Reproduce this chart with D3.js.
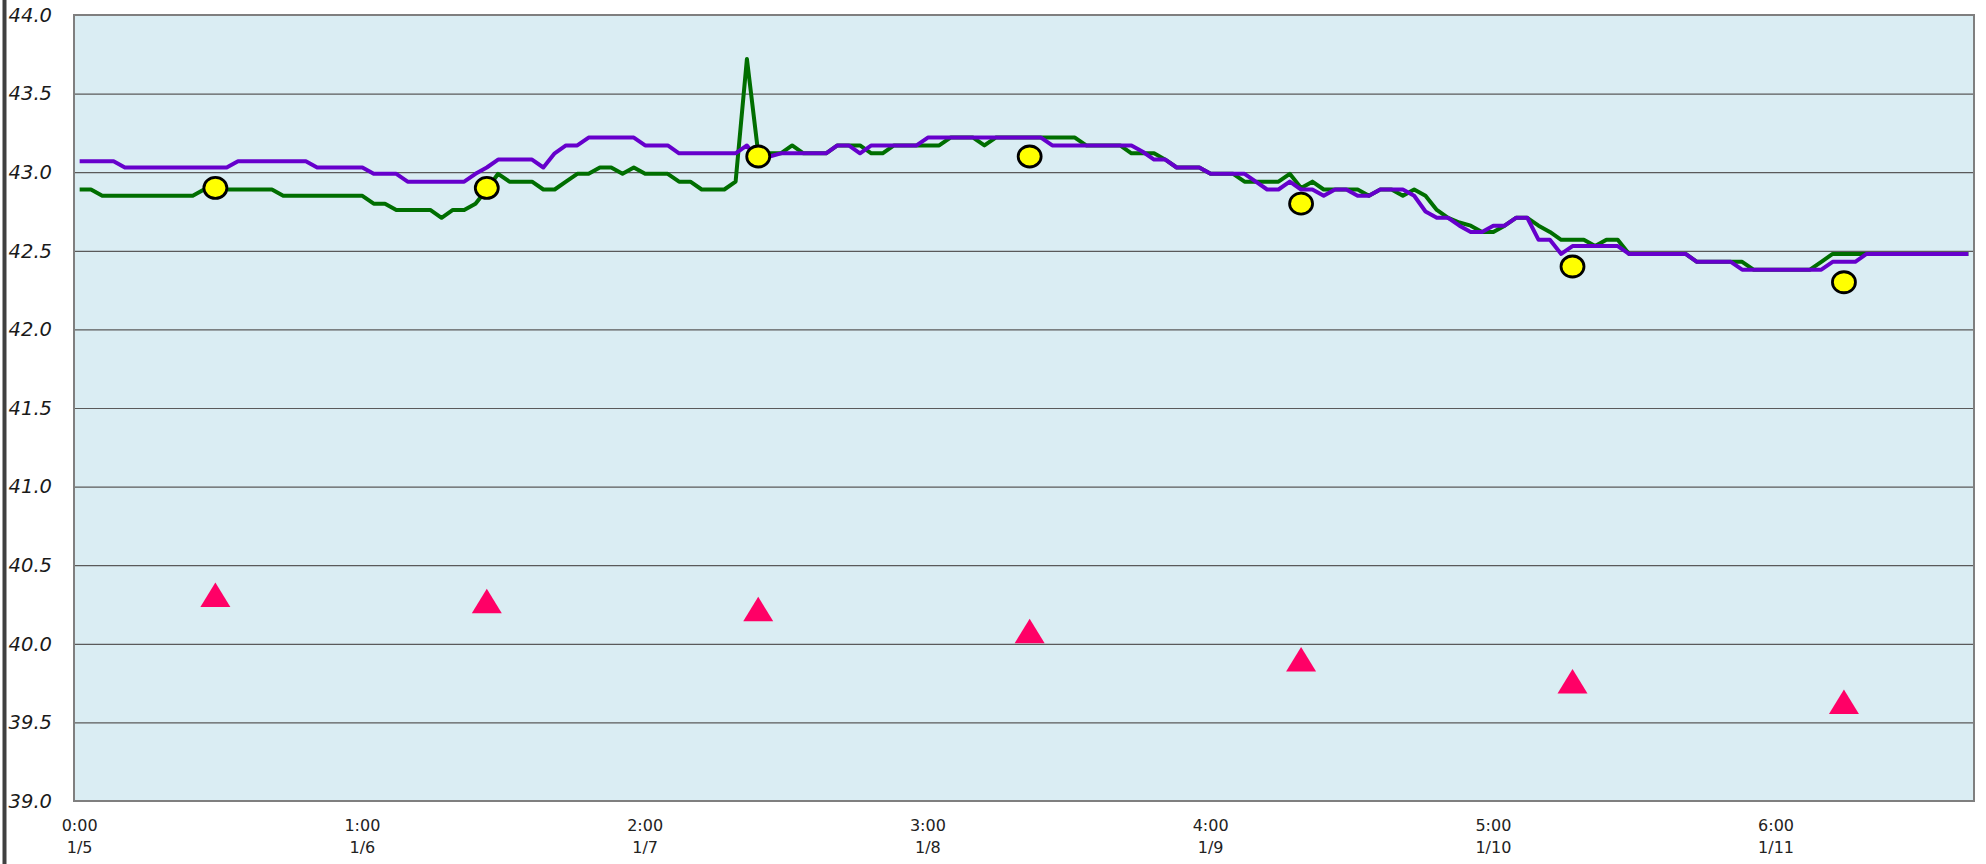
<!DOCTYPE html>
<html><head><meta charset="utf-8">
<script src="https://cdn.jsdelivr.net/npm/d3@7"></script>
<style>body{margin:0;background:#fff;} svg{display:block;}</style>
</head><body><svg id="c" width="1986" height="864"></svg>
<script>
const greenSeries = [
42.89,42.89,
42.85,42.85,42.85,42.85,42.85,42.85,42.85,42.85,42.85,
42.89,42.89,42.89,42.89,42.89,42.89,42.89,
42.85,42.85,42.85,42.85,42.85,42.85,42.85,42.85,
42.80,42.80,
42.76,42.76,42.76,42.76,
42.71,
42.76,42.76,
42.80,42.89,42.99,
42.94,42.94,42.94,
42.89,42.89,
42.94,
42.99,42.99,
43.03,43.03,
42.99,43.03,
42.99,42.99,42.99,
42.94,42.94,
42.89,42.89,42.89,
42.94,43.72,
43.12,43.12,43.12,
43.17,
43.12,43.12,43.12,
43.17,43.17,43.17,
43.12,43.12,
43.17,43.17,43.17,43.17,43.17,
43.22,43.22,43.22,
43.17,
43.22,43.22,43.22,43.22,43.22,43.22,43.22,43.22,
43.17,43.17,43.17,43.17,
43.12,43.12,43.12,
43.08,
43.03,43.03,43.03,
42.99,42.99,42.99,
42.94,42.94,42.94,42.94,
42.99,42.90,42.94,
42.89,42.89,42.89,42.89,
42.85,42.89,42.89,42.85,42.89,42.85,
42.76,42.71,42.68,42.66,
42.62,42.62,
42.66,42.71,42.71,42.66,42.62,
42.57,42.57,42.57,
42.53,42.57,42.57,
42.48,42.48,42.48,42.48,42.48,42.48,
42.43,42.43,42.43,42.43,42.43,
42.38,42.38,42.38,42.38,42.38,42.38,
42.43,
42.48,42.48,42.48,42.48,42.48,42.48,42.48,42.48,42.48,42.48,42.48,42.48,42.48
];
const purpleSeries = [
43.07,43.07,43.07,43.07,
43.03,43.03,43.03,43.03,43.03,43.03,43.03,43.03,43.03,43.03,
43.07,43.07,43.07,43.07,43.07,43.07,43.07,
43.03,43.03,43.03,43.03,43.03,
42.99,42.99,42.99,
42.94,42.94,42.94,42.94,42.94,42.94,
42.99,43.03,
43.08,43.08,43.08,43.08,
43.03,43.12,
43.17,43.17,
43.22,43.22,43.22,43.22,43.22,
43.17,43.17,43.17,
43.12,43.12,43.12,43.12,43.12,43.12,
43.17,43.08,43.10,
43.12,43.12,43.12,43.12,43.12,
43.17,43.17,43.12,
43.17,43.17,43.17,43.17,43.17,
43.22,43.22,43.22,43.22,43.22,43.22,43.22,43.22,43.22,43.22,43.22,
43.17,43.17,43.17,43.17,43.17,43.17,43.17,43.17,
43.13,43.08,43.08,
43.03,43.03,43.03,
42.99,42.99,42.99,42.99,
42.94,42.89,42.89,42.94,42.89,42.89,42.85,42.89,42.89,
42.85,42.85,
42.89,42.89,42.89,
42.85,42.75,42.71,42.71,42.66,42.62,42.62,42.66,42.66,42.71,42.71,
42.57,42.57,42.48,
42.53,42.53,42.53,42.53,42.53,
42.48,42.48,42.48,42.48,42.48,42.48,
42.43,42.43,42.43,42.43,
42.38,42.38,42.38,42.38,42.38,42.38,42.38,42.38,
42.43,42.43,42.43,
42.48,42.48,42.48,42.48,42.48,42.48,42.48,42.48,42.48,42.48
];
const markerIdx = [12, 36, 60, 84, 108, 132, 156];
const circleValues = [42.9, 42.9, 43.1, 43.1, 42.8, 42.4, 42.3];
const triangleValues = [40.31, 40.27, 40.22, 40.08, 39.90, 39.76, 39.63];
const xTickIdx = [0, 25, 50, 75, 100, 125, 150];
const xTickTime = ["0:00", "1:00", "2:00", "3:00", "4:00", "5:00", "6:00"];
const xTickDate = ["1/5", "1/6", "1/7", "1/8", "1/9", "1/10", "1/11"];
const yTicks = [39.0, 39.5, 40.0, 40.5, 41.0, 41.5, 42.0, 42.5, 43.0, 43.5, 44.0];

const L = 74, R = 1974, T = 15, B = 801;
const svg = d3.select("#c");
const n = greenSeries.length;
const x = d3.scaleBand().domain(d3.range(n)).range([L, R]).padding(0);
const xc = i => x(i) + x.bandwidth() / 2;
const y = d3.scaleLinear().domain([39, 44]).range([B, T]);

svg.append("rect").attr("x", 2.5).attr("y", 0).attr("width", 4).attr("height", 864).attr("fill", "#404040");

svg.append("rect").attr("x", L).attr("y", T).attr("width", R - L).attr("height", B - T).attr("fill", "#DAEDF3");

const grid = svg.append("g").attr("transform", `translate(${L},0)`)
  .call(d3.axisLeft(y).tickValues(yTicks).tickSize(-(R - L)).tickFormat(""));
grid.select(".domain").remove();
grid.selectAll("line").attr("stroke", "#5a5a5a").attr("stroke-width", 1.2);

const ya = svg.append("g").attr("transform", `translate(${L},0)`)
  .call(d3.axisLeft(y).tickValues(yTicks).tickSize(0).tickPadding(22).tickFormat(d3.format(".1f")));
ya.select(".domain").remove();
ya.selectAll("text").attr("font-family", "DejaVu Sans").attr("font-style", "italic")
  .attr("font-size", 19.5).attr("fill", "#1a1a1a");

const xa = svg.append("g").attr("transform", `translate(0,${B})`)
  .call(d3.axisBottom(x).tickValues(xTickIdx).tickSize(0).tickFormat(""));
xa.select(".domain").remove();
xa.selectAll(".tick").each(function (d, k) {
  const t = d3.select(this).append("text").attr("font-family", "DejaVu Sans")
    .attr("font-size", 16).attr("fill", "#222").attr("text-anchor", "middle");
  t.append("tspan").attr("x", 0).attr("y", 30).text(xTickTime[k]);
  t.append("tspan").attr("x", 0).attr("y", 52).text(xTickDate[k]);
});

svg.append("rect").attr("x", L).attr("y", T).attr("width", R - L).attr("height", B - T)
  .attr("fill", "none").attr("stroke", "#7f7f7f").attr("stroke-width", 2);

const line = d3.line().x((d, i) => xc(i)).y(d => y(d));
svg.append("path").datum(greenSeries).attr("d", line).attr("fill", "none")
  .attr("stroke", "#006E00").attr("stroke-width", 4).attr("stroke-linejoin", "round");
svg.append("path").datum(purpleSeries).attr("d", line).attr("fill", "none")
  .attr("stroke", "#6600CC").attr("stroke-width", 4).attr("stroke-linejoin", "round");

svg.selectAll("path.tri").data(triangleValues).join("path").attr("class", "tri")
  .attr("transform", (d, k) => `translate(${xc(markerIdx[k])},${y(d)})`)
  .attr("d", "M0,-12.5L15,12L-15,12Z").attr("fill", "#FF0066");

svg.selectAll("ellipse.dot").data(circleValues).join("ellipse").attr("class", "dot")
  .attr("cx", (d, k) => xc(markerIdx[k])).attr("cy", d => y(d))
  .attr("rx", 11.5).attr("ry", 10.5).attr("fill", "#FFFF00").attr("stroke", "#000").attr("stroke-width", 2.8);
</script>
</body></html>
